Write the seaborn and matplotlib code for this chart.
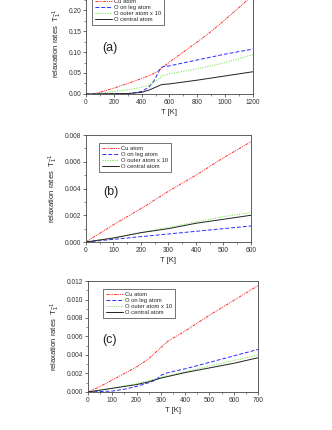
import matplotlib
matplotlib.use('Agg')
import matplotlib.pyplot as plt
import seaborn as sns
import numpy as np
import pandas as pd
from matplotlib.lines import Line2D
from matplotlib.ticker import MultipleLocator, FormatStrFormatter

series_names = ['Cu atom', 'O on leg atom', 'O outer atom x 10', 'O central atom']

# panel (a)
a_cu_T = [50, 100, 200, 300, 400, 450, 500, 550, 600, 700, 800, 900, 1000, 1100, 1200]
a_cu = [0.0, 0.004, 0.014, 0.025, 0.037, 0.043, 0.051, 0.063, 0.076, 0.100, 0.124, 0.149, 0.177, 0.206, 0.236]
a_leg_T = [0, 300, 350, 400, 450, 480, 500, 530, 550, 600, 700, 800, 900, 1000, 1100, 1200]
a_leg = [0.0, 0.001, 0.003, 0.006, 0.016, 0.027, 0.038, 0.058, 0.065, 0.067, 0.074, 0.081, 0.088, 0.095, 0.101, 0.107]
a_out_T = [50, 100, 200, 300, 400, 450, 500, 550, 600, 700, 800, 900, 1000, 1100, 1200]
a_out = [0.0, 0.002, 0.006, 0.010, 0.016, 0.021, 0.030, 0.044, 0.048, 0.054, 0.060, 0.067, 0.075, 0.084, 0.094]
a_cen_T = [0, 300, 400, 450, 500, 540, 560, 600, 800, 1000, 1200]
a_cen = [0.0, 0.001, 0.004, 0.009, 0.016, 0.022, 0.023, 0.024, 0.033, 0.043, 0.053]

# panel (b)
b_T = [0, 100, 200, 300, 400, 500, 600]
b_cu = [0.0, 0.0013, 0.0025, 0.0038, 0.0050, 0.0063, 0.0075]
b_leg = [0.0, 0.0002, 0.0004, 0.0006, 0.0008, 0.0010, 0.0012]
b_out = [0.0, 0.0003, 0.0007, 0.0011, 0.0015, 0.0019, 0.0022]
b_cen = [0.0, 0.0003, 0.0007, 0.0010, 0.0014, 0.0017, 0.0020]

# panel (c)
c_cu_T = [0, 50, 100, 150, 200, 250, 300, 330, 400, 500, 600, 700]
c_cu = [0.0, 0.0006, 0.0013, 0.0020, 0.0027, 0.0036, 0.0048, 0.0055, 0.0066, 0.0083, 0.0099, 0.0115]
c_leg_T = [0, 100, 150, 200, 250, 280, 300, 330, 400, 500, 600, 700]
c_leg = [0.0, 0.0001, 0.0003, 0.0006, 0.0010, 0.0013, 0.0018, 0.0021, 0.0025, 0.0032, 0.0039, 0.0046]
c_out_T = [0, 100, 200, 250, 300, 400, 500, 600, 700]
c_out = [0.0, 0.0004, 0.0009, 0.0012, 0.0016, 0.0022, 0.0028, 0.0034, 0.0040]
c_cen_T = [0, 100, 200, 250, 300, 350, 400, 500, 600, 700]
c_cen = [0.0, 0.0004, 0.0008, 0.0011, 0.0015, 0.0018, 0.0021, 0.0026, 0.0031, 0.0037]

sns.set_theme(style='ticks')
plt.rcParams['font.family'] = ['Liberation Sans', 'DejaVu Sans']
plt.rcParams['mathtext.fontset'] = 'custom'
plt.rcParams['mathtext.rm'] = 'Liberation Sans'
plt.rcParams['mathtext.it'] = 'Liberation Sans'

palette = {'Cu atom': '#ff2a2a', 'O on leg atom': '#2a2aff',
           'O outer atom x 10': '#66dd33', 'O central atom': '#222222'}
dashes = {'Cu atom': (3, 1, 1, 1, 1, 1), 'O on leg atom': (4, 2),
          'O outer atom x 10': (1, 1.5), 'O central atom': ''}


def make_df(parts):
    frames = []
    for name, T, v in parts:
        frames.append(pd.DataFrame({'T': T, 'rate': v, 'series': name}))
    return pd.concat(frames, ignore_index=True)


df_a = make_df([(series_names[0], a_cu_T, a_cu), (series_names[1], a_leg_T, a_leg),
                (series_names[2], a_out_T, a_out), (series_names[3], a_cen_T, a_cen)])
df_b = make_df([(series_names[0], b_T, b_cu), (series_names[1], b_T, b_leg),
                (series_names[2], b_T, b_out), (series_names[3], b_T, b_cen)])
df_c = make_df([(series_names[0], c_cu_T, c_cu), (series_names[1], c_leg_T, c_leg),
                (series_names[2], c_out_T, c_out), (series_names[3], c_cen_T, c_cen)])

fig = plt.figure(figsize=(3.32, 4.30), dpi=100)
ax_a = fig.add_axes([0.259, 0.7814, 0.503, 0.2344])
ax_b = fig.add_axes([0.259, 0.4372, 0.497, 0.2488])
ax_c = fig.add_axes([0.265, 0.0884, 0.512, 0.2581])

panels = [
    (ax_a, df_a, (0, 1200), 200, 100, (0, 0.24), 0.05, 0.025, '%.2f', '(a)', (0.10, 0.46), (0.036, 0.975)),
    (ax_b, df_b, (0, 600), 100, 50, (0, 0.008), 0.002, 0.001, '%.3f', '(b)', (0.103, 0.467), (0.079, 0.925)),
    (ax_c, df_c, (0, 700), 100, 50, (0, 0.012), 0.002, 0.001, '%.3f', '(c)', (0.082, 0.468), (0.088, 0.928)),
]

for ax, df, xl, xmaj, xmin, yl, ymaj, ymin, fmt, lab, lab_pos, leg_pos in panels:
    sns.lineplot(data=df, x='T', y='rate', hue='series', style='series',
                 hue_order=series_names, style_order=series_names,
                 palette=palette, dashes=dashes, linewidth=0.7, ax=ax, sort=False,
                 legend=False)
    ax.set_xlim(*xl)
    ax.set_ylim(*yl)
    ax.xaxis.set_major_locator(MultipleLocator(xmaj))
    ax.xaxis.set_minor_locator(MultipleLocator(xmin))
    ax.yaxis.set_major_locator(MultipleLocator(ymaj))
    ax.yaxis.set_minor_locator(MultipleLocator(ymin))
    ax.yaxis.set_major_formatter(FormatStrFormatter(fmt))
    ax.tick_params(which='major', direction='out', length=2.5, width=0.5, labelsize=4.8,
                   pad=1, colors='#333333')
    ax.tick_params(which='minor', direction='out', length=1.4, width=0.4, colors='#333333')
    for s in ax.spines.values():
        s.set_visible(True)
        s.set_linewidth(0.6)
        s.set_color('#444444')
    ax.set_xlabel('T [K]', fontsize=5.5, labelpad=2, color='#222222')
    ax.set_ylabel('relaxation rates  $T_1^{-1}$', fontsize=5.5, labelpad=3, color='#222222')
    ax.text(lab_pos[0], lab_pos[1], lab, transform=ax.transAxes, fontsize=9,
            va='center', ha='left', color='#222222')
    handles = []
    for name in series_names:
        d = dashes[name]
        h = Line2D([], [], color=palette[name], linewidth=0.7)
        if d:
            h.set_dashes(d)
        handles.append(h)
    leg = ax.legend(handles, series_names, loc='upper left', bbox_to_anchor=leg_pos,
                    fontsize=4.2, handlelength=2.9, handletextpad=0.4, labelspacing=0.15,
                    borderpad=0.5, frameon=True, fancybox=False, borderaxespad=0)
    leg.get_frame().set_edgecolor('#333333')
    leg.get_frame().set_linewidth(0.6)

fig.savefig('out.png', dpi=100)
